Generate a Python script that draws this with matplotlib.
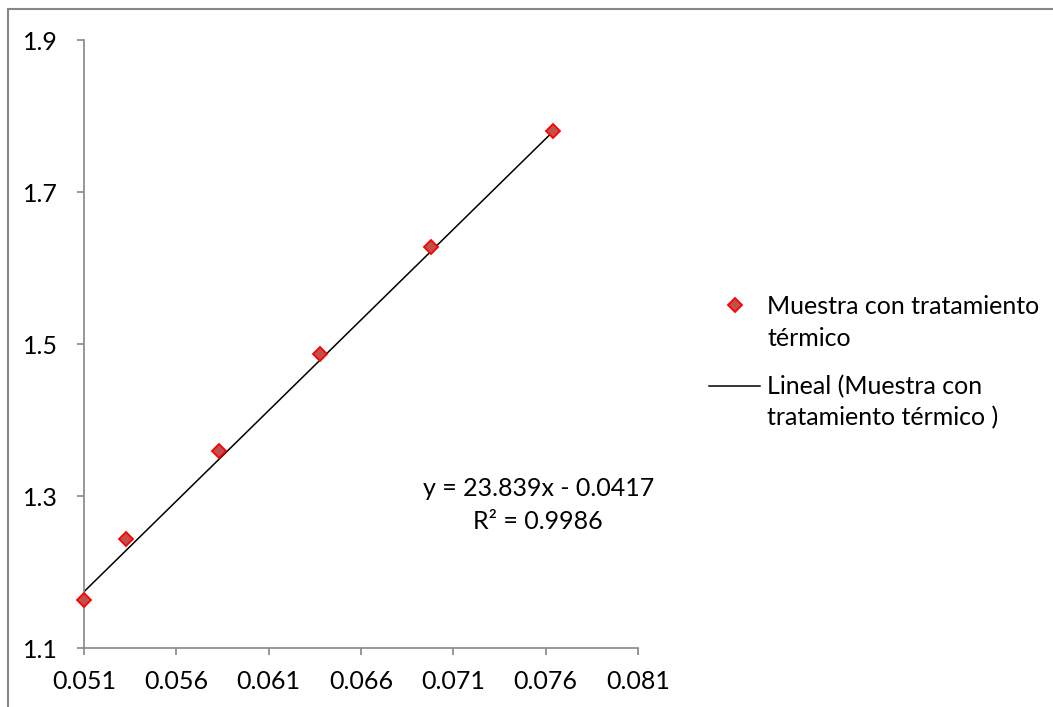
import numpy as np
import matplotlib.pyplot as plt
from matplotlib.lines import Line2D
from matplotlib.patches import Rectangle

# ---------------------------------------------------------------------------
# Data
# ---------------------------------------------------------------------------
x_vals = [0.0510, 0.0533, 0.0583, 0.0638, 0.0698, 0.0764]
y_vals = [1.163, 1.243, 1.359, 1.487, 1.628, 1.780]

slope = 23.839
intercept = -0.0417
eq_label = 'y = 23.839x - 0.0417'
r2_label = 'R² = 0.9986'

x_ticks = [0.051, 0.056, 0.061, 0.066, 0.071, 0.076, 0.081]
y_ticks = [1.1, 1.3, 1.5, 1.7, 1.9]

series_label = 'Muestra con tratamiento\ntérmico'
trend_label = 'Lineal (Muestra con\ntratamiento térmico )'

# ---------------------------------------------------------------------------
# Style
# ---------------------------------------------------------------------------
plt.rcParams['font.family'] = ['Lato', 'DejaVu Sans']
fs = 18
grey = '#868686'
face = '#C0504D'
edge = '#FF0000'
ms = 7.5

W, H = 1053, 707
fig = plt.figure(figsize=(W / 100, H / 100), dpi=100)

# outer chart border (right / bottom edges fall outside the image)
fig.add_artist(Rectangle((8 / W, -0.1), 1.2, 1 - 9 / H + 0.1,
                         transform=fig.transFigure, fill=False,
                         edgecolor=grey, linewidth=1.5))

ax = fig.add_axes([84 / W, 1 - 648 / H, (638 - 84) / W, (648 - 40) / H])

# trendline over the data range
xt = np.array([min(x_vals), max(x_vals)])
ax.plot(xt, slope * xt + intercept, color='black', linewidth=1.1, zorder=2)

ax.plot(x_vals, y_vals, linestyle='none', marker='D', markersize=ms,
        markerfacecolor=face, markeredgecolor=edge, markeredgewidth=1.3,
        zorder=3, clip_on=False)

ax.set_xlim(0.051, 0.081)
ax.set_ylim(1.1, 1.9)
ax.set_xticks(x_ticks)
ax.set_xticklabels([f'{v:.3f}' for v in x_ticks])
ax.set_yticks(y_ticks)
ax.set_yticklabels([f'{v:.1f}' for v in y_ticks])

for s in ['top', 'right']:
    ax.spines[s].set_visible(False)
for s in ['left', 'bottom']:
    ax.spines[s].set_color(grey)
    ax.spines[s].set_linewidth(1.2)

ax.tick_params(axis='both', direction='out', length=5, width=1.2,
               color=grey, labelsize=fs, labelcolor='black')
ax.tick_params(axis='y', pad=14)
ax.tick_params(axis='x', pad=11)

# equation and R² text
ax.text(0.0756, 1.310, eq_label, ha='center', va='center', fontsize=fs)
ax.text(0.0756, 1.266, r2_label, ha='center', va='center', fontsize=fs)

# ---------------------------------------------------------------------------
# Legend (Excel style: handle aligned with the first text line)
# ---------------------------------------------------------------------------
def legend_lines(label, y0):
    for i, line in enumerate(label.split('\n')):
        fig.text(767 / W, 1 - (y0 + 31 * i) / H, line, fontsize=fs,
                 va='center', ha='left')

fig.add_artist(Line2D([735 / W], [1 - 305 / H], transform=fig.transFigure,
                      linestyle='none', marker='D', markersize=ms,
                      markerfacecolor=face, markeredgecolor=edge,
                      markeredgewidth=1.3))
legend_lines(series_label, 307)

fig.add_artist(Line2D([709 / W, 760 / W], [1 - 386 / H, 1 - 386 / H],
                      transform=fig.transFigure, color='black',
                      linewidth=1.1))
legend_lines(trend_label, 387)

fig.savefig('out.png', dpi=100)
